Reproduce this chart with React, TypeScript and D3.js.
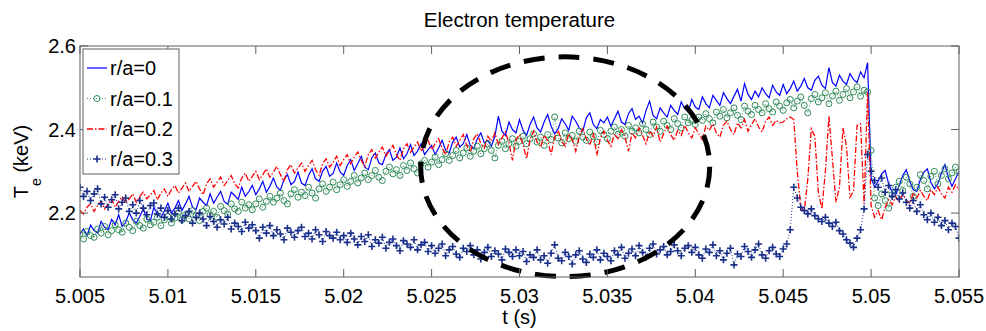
import React from "react";
import * as d3 from "d3";

const T0 = 5.005;
const DT = 0.0002;

const xTicks = [5.005, 5.01, 5.015, 5.02, 5.025, 5.03, 5.035, 5.04, 5.045, 5.05, 5.055];
const xTickLabels = ["5.005", "5.01", "5.015", "5.02", "5.025", "5.03", "5.035", "5.04", "5.045", "5.05", "5.055"];
const yTicks = [2.2, 2.4, 2.6];
const yTickLabels = ["2.2", "2.4", "2.6"];

const seriesNames = ["r/a=0", "r/a=0.1", "r/a=0.2", "r/a=0.3"];

// r/a = 0
const te0 = [
  2.150, 2.162, 2.146, 2.171, 2.158, 2.152, 2.180, 2.166, 2.160, 2.185, 2.172, 2.196, 2.168, 2.178, 2.201, 2.184, 2.176, 2.192, 2.210, 2.186, 2.181, 2.214, 2.198, 2.190, 2.205,
  2.224, 2.200, 2.212, 2.230, 2.206, 2.222, 2.240, 2.214, 2.208, 2.236, 2.226, 2.218, 2.246, 2.224, 2.238, 2.252, 2.228, 2.221, 2.250, 2.242, 2.233, 2.262, 2.240, 2.251, 2.266,
  2.244, 2.258, 2.276, 2.250, 2.264, 2.284, 2.262, 2.255, 2.280, 2.292, 2.268, 2.276, 2.298, 2.272, 2.266, 2.290, 2.306, 2.282, 2.276, 2.300, 2.312, 2.288, 2.295, 2.320, 2.298,
  2.290, 2.314, 2.328, 2.302, 2.318, 2.336, 2.310, 2.304, 2.332, 2.344, 2.320, 2.316, 2.340, 2.352, 2.326, 2.334, 2.356, 2.330, 2.342, 2.364, 2.338, 2.348, 2.366, 2.340, 2.352,
  2.362, 2.340, 2.356, 2.374, 2.350, 2.344, 2.370, 2.382, 2.358, 2.366, 2.388, 2.362, 2.354, 2.378, 2.392, 2.368, 2.374, 2.360, 2.384, 2.432, 2.396, 2.386, 2.418, 2.400, 2.392,
  2.424, 2.398, 2.386, 2.412, 2.430, 2.404, 2.394, 2.418, 2.436, 2.408, 2.390, 2.402, 2.426, 2.414, 2.398, 2.432, 2.420, 2.404, 2.396, 2.428, 2.440, 2.412, 2.402, 2.424, 2.416,
  2.430, 2.408, 2.426, 2.444, 2.418, 2.412, 2.438, 2.450, 2.424, 2.432, 2.416, 2.446, 2.468, 2.434, 2.426, 2.452, 2.440, 2.430, 2.458, 2.446, 2.436, 2.466, 2.450, 2.442, 2.472,
  2.454, 2.448, 2.478, 2.462, 2.452, 2.482, 2.470, 2.458, 2.488, 2.474, 2.462, 2.480, 2.496, 2.468, 2.510, 2.484, 2.472, 2.492, 2.478, 2.500, 2.486, 2.476, 2.506, 2.490, 2.482,
  2.508, 2.486, 2.498, 2.516, 2.492, 2.504, 2.522, 2.500, 2.494, 2.518, 2.528, 2.506, 2.498, 2.548, 2.512, 2.504, 2.530, 2.516, 2.508, 2.534, 2.520, 2.512, 2.538, 2.524, 2.560,
  2.285, 2.262, 2.276, 2.294, 2.302, 2.270, 2.250, 2.244, 2.266, 2.290, 2.304, 2.276, 2.256, 2.252, 2.280, 2.298, 2.306, 2.274, 2.258, 2.270, 2.296, 2.316, 2.284, 2.264, 2.282, 2.300,
];

// r/a = 0.1
const te1 = [
  2.150, 2.138, 2.156, 2.146, 2.142, 2.162, 2.152, 2.168, 2.148, 2.158, 2.172, 2.160, 2.154, 2.176, 2.166, 2.158, 2.180, 2.170, 2.164, 2.186, 2.172, 2.178, 2.190, 2.170, 2.184,
  2.192, 2.176, 2.188, 2.200, 2.184, 2.196, 2.186, 2.206, 2.194, 2.182, 2.204, 2.212, 2.196, 2.204, 2.190, 2.216, 2.206, 2.198, 2.222, 2.210, 2.204, 2.226, 2.212, 2.220, 2.208,
  2.222, 2.234, 2.214, 2.228, 2.240, 2.226, 2.236, 2.248, 2.230, 2.222, 2.246, 2.256, 2.238, 2.250, 2.242, 2.262, 2.248, 2.236, 2.258, 2.270, 2.252, 2.262, 2.274, 2.256, 2.268,
  2.280, 2.264, 2.276, 2.290, 2.272, 2.284, 2.296, 2.280, 2.290, 2.302, 2.286, 2.278, 2.300, 2.310, 2.294, 2.304, 2.290, 2.314, 2.302, 2.320, 2.306, 2.296, 2.318, 2.326, 2.310,
  2.322, 2.334, 2.316, 2.328, 2.342, 2.326, 2.338, 2.350, 2.332, 2.344, 2.356, 2.336, 2.348, 2.360, 2.342, 2.354, 2.366, 2.350, 2.332, 2.362, 2.372, 2.354, 2.366, 2.378, 2.360,
  2.372, 2.384, 2.366, 2.378, 2.390, 2.370, 2.382, 2.362, 2.388, 2.376, 2.430, 2.380, 2.368, 2.392, 2.378, 2.386, 2.372, 2.396, 2.382, 2.374, 2.394, 2.384, 2.370, 2.398, 2.388,
  2.378, 2.396, 2.406, 2.388, 2.400, 2.384, 2.410, 2.396, 2.404, 2.392, 2.414, 2.400, 2.388, 2.418, 2.406, 2.396, 2.420, 2.410, 2.400, 2.426, 2.414, 2.404, 2.430, 2.416, 2.422,
  2.412, 2.430, 2.422, 2.438, 2.426, 2.416, 2.442, 2.432, 2.448, 2.428, 2.440, 2.452, 2.434, 2.424, 2.456, 2.444, 2.436, 2.458, 2.448, 2.440, 2.462, 2.450, 2.442, 2.466, 2.456,
  2.446, 2.464, 2.472, 2.452, 2.468, 2.478, 2.458, 2.440, 2.474, 2.484, 2.466, 2.476, 2.488, 2.462, 2.480, 2.492, 2.470, 2.484, 2.498, 2.476, 2.490, 2.502, 2.480, 2.494, 2.490,
  2.350, 2.236, 2.218, 2.246, 2.230, 2.212, 2.244, 2.262, 2.276, 2.254, 2.286, 2.270, 2.240, 2.262, 2.292, 2.278, 2.258, 2.288, 2.300, 2.270, 2.290, 2.306, 2.282, 2.296, 2.310, 2.298,
];

// r/a = 0.2
const te2 = [
  2.206, 2.198, 2.214, 2.222, 2.204, 2.218, 2.228, 2.210, 2.222, 2.234, 2.214, 2.228, 2.240, 2.224, 2.234, 2.246, 2.226, 2.240, 2.250, 2.234, 2.244, 2.254, 2.232, 2.248, 2.258,
  2.240, 2.256, 2.266, 2.248, 2.260, 2.272, 2.252, 2.264, 2.276, 2.258, 2.244, 2.270, 2.282, 2.262, 2.274, 2.286, 2.266, 2.278, 2.290, 2.270, 2.260, 2.284, 2.296, 2.276, 2.288,
  2.300, 2.280, 2.292, 2.306, 2.286, 2.298, 2.312, 2.292, 2.276, 2.304, 2.316, 2.296, 2.308, 2.320, 2.300, 2.314, 2.326, 2.304, 2.290, 2.318, 2.330, 2.310, 2.322, 2.336, 2.314,
  2.328, 2.340, 2.318, 2.334, 2.346, 2.326, 2.312, 2.340, 2.352, 2.332, 2.346, 2.358, 2.336, 2.350, 2.362, 2.340, 2.326, 2.354, 2.366, 2.346, 2.358, 2.370, 2.348, 2.362, 2.374,
  2.352, 2.366, 2.378, 2.356, 2.340, 2.370, 2.382, 2.360, 2.374, 2.388, 2.362, 2.346, 2.378, 2.390, 2.366, 2.356, 2.384, 2.372, 2.392, 2.364, 2.380, 2.394, 2.368, 2.326, 2.376,
  2.388, 2.364, 2.330, 2.376, 2.396, 2.370, 2.358, 2.386, 2.374, 2.340, 2.382, 2.398, 2.372, 2.360, 2.390, 2.376, 2.348, 2.384, 2.402, 2.378, 2.362, 2.392, 2.338, 2.380, 2.396,
  2.374, 2.360, 2.390, 2.378, 2.400, 2.382, 2.348, 2.392, 2.380, 2.404, 2.386, 2.366, 2.396, 2.384, 2.406, 2.370, 2.390, 2.408, 2.388, 2.374, 2.398, 2.386, 2.410, 2.392, 2.380,
  2.404, 2.390, 2.376, 2.408, 2.398, 2.414, 2.392, 2.382, 2.410, 2.420, 2.400, 2.388, 2.416, 2.404, 2.424, 2.396, 2.412, 2.426, 2.406, 2.394, 2.420, 2.430, 2.410, 2.422, 2.416,
  2.418, 2.426, 2.430, 2.424, 2.300, 2.214, 2.204, 2.282, 2.402, 2.384, 2.250, 2.210, 2.300, 2.432, 2.330, 2.226, 2.262, 2.404, 2.360, 2.238, 2.252, 2.410, 2.414, 2.222, 2.490,
  2.218, 2.190, 2.206, 2.184, 2.214, 2.232, 2.220, 2.240, 2.226, 2.246, 2.232, 2.222, 2.248, 2.236, 2.254, 2.240, 2.230, 2.256, 2.244, 2.262, 2.246, 2.236, 2.262, 2.250, 2.268, 2.256,
];

// r/a = 0.3
const te3 = [
  2.262, 2.240, 2.252, 2.230, 2.246, 2.258, 2.222, 2.238, 2.214, 2.232, 2.244, 2.210, 2.226, 2.236, 2.204, 2.220, 2.200, 2.230, 2.212, 2.196, 2.218, 2.224, 2.198, 2.212, 2.190,
  2.206, 2.186, 2.198, 2.212, 2.182, 2.194, 2.204, 2.176, 2.190, 2.200, 2.186, 2.170, 2.192, 2.180, 2.166, 2.184, 2.174, 2.190, 2.162, 2.176, 2.168, 2.156, 2.178, 2.164, 2.172,
  2.158, 2.140, 2.166, 2.152, 2.170, 2.146, 2.160, 2.150, 2.136, 2.164, 2.154, 2.142, 2.158, 2.166, 2.144, 2.152, 2.138, 2.160, 2.148, 2.132, 2.156, 2.146, 2.140, 2.154, 2.136,
  2.146, 2.130, 2.152, 2.138, 2.124, 2.144, 2.132, 2.148, 2.120, 2.136, 2.128, 2.142, 2.116, 2.130, 2.138, 2.122, 2.110, 2.134, 2.126, 2.118, 2.136, 2.112, 2.124, 2.130, 2.108,
  2.122, 2.104, 2.116, 2.126, 2.098, 2.112, 2.120, 2.102, 2.094, 2.116, 2.108, 2.122, 2.100, 2.112, 2.090, 2.106, 2.118, 2.096, 2.110, 2.102, 2.088, 2.114, 2.106, 2.096, 2.112,
  2.098, 2.108, 2.084, 2.100, 2.094, 2.112, 2.088, 2.098, 2.080, 2.104, 2.124, 2.092, 2.086, 2.106, 2.096, 2.078, 2.100, 2.110, 2.090, 2.082, 2.102, 2.094, 2.112, 2.088, 2.104,
  2.096, 2.086, 2.110, 2.100, 2.118, 2.092, 2.104, 2.114, 2.098, 2.122, 2.106, 2.094, 2.116, 2.126, 2.102, 2.112, 2.120, 2.100, 2.108, 2.124, 2.110, 2.098, 2.116, 2.122, 2.106,
  2.118, 2.100, 2.092, 2.114, 2.106, 2.124, 2.098, 2.110, 2.088, 2.104, 2.116, 2.076, 2.102, 2.096, 2.120, 2.108, 2.094, 2.112, 2.126, 2.100, 2.092, 2.110, 2.118, 2.102, 2.096,
  2.114, 2.126, 2.160, 2.262, 2.236, 2.214, 2.206, 2.198, 2.210, 2.194, 2.186, 2.180, 2.190, 2.176, 2.168, 2.178, 2.158, 2.150, 2.136, 2.128, 2.118, 2.140, 2.160, 2.210, 2.340,
  2.300, 2.278, 2.262, 2.284, 2.250, 2.266, 2.240, 2.256, 2.234, 2.248, 2.226, 2.212, 2.230, 2.204, 2.220, 2.196, 2.184, 2.200, 2.178, 2.190, 2.170, 2.182, 2.160, 2.176, 2.168, 2.140,
];

// dashed ellipse annotation (data units)
const ellipseCenter = [5.0326, 2.311];
const ellipseRadii = [0.00822, 0.263];

const W = 986;
const H = 331;
const L = 80, R = 959, TOP = 46, BOT = 277;
const FONT = "'Liberation Sans', Arial, Helvetica, sans-serif";
const AXIS = "#5f5f5f";

const COLORS = ["#0000ff", "#2e8b57", "#ff0000", "#1a2f8c"];

export default function App() {
  const x = d3.scaleLinear().domain([5.005, 5.055]).range([L, R]);
  const y = d3.scaleLinear().domain([2.047, 2.6]).range([BOT, TOP]);

  const toPts = (arr: number[]) => arr.map((v, i) => [T0 + i * DT, v] as [number, number]);
  const line = d3
    .line<[number, number]>()
    .x((d) => x(d[0]))
    .y((d) => y(d[1]));

  const p0 = toPts(te0);
  const p1 = toPts(te1);
  const p2 = toPts(te2);
  const p3 = toPts(te3);

  const tick = 8;
  const legendRows = [68, 98.5, 129, 159];

  const ecx = x(ellipseCenter[0]);
  const ecy = y(ellipseCenter[1]);
  const erx = x(5.005 + ellipseRadii[0]) - x(5.005);
  const ery = y(2.2) - y(2.2 + ellipseRadii[1]);

  const plus = (cx: number, cy: number, k: string, c: string) => (
    <path key={k} d={`M${cx - 3.5},${cy}H${cx + 3.5}M${cx},${cy - 3.5}V${cy + 3.5}`} stroke={c} strokeWidth={1.6} fill="none" />
  );

  return (
    <svg width={W} height={H} style={{ position: "absolute", left: 0, top: 0, background: "#fff" }} fontFamily={FONT}>
      <defs>
        <clipPath id="plotclip">
          <rect x={L} y={TOP} width={R - L} height={BOT - TOP} />
        </clipPath>
      </defs>
      <rect x={0} y={0} width={W} height={H} fill="#fff" />

      <text x={(L + R) / 2} y={27} textAnchor="middle" fontSize={20.5} fill="#000">
        Electron temperature
      </text>

      <g clipPath="url(#plotclip)">
        <path d={line(p0) || ""} fill="none" stroke={COLORS[0]} strokeWidth={1.2} />
        <path d={line(p1) || ""} fill="none" stroke={COLORS[1]} strokeWidth={1} strokeDasharray="1 2" />
        {p1.map((d, i) => (
          <circle key={"g" + i} cx={x(d[0])} cy={y(d[1])} r={3} fill="none" stroke={COLORS[1]} strokeWidth={1} />
        ))}
        <path d={line(p2) || ""} fill="none" stroke={COLORS[2]} strokeWidth={1.3} strokeDasharray="6 2 1.5 2" />
        <path d={line(p3) || ""} fill="none" stroke={COLORS[3]} strokeWidth={1} strokeDasharray="1 2" />
        {p3.map((d, i) => plus(x(d[0]), y(d[1]), "p" + i, COLORS[3]))}
      </g>

      <ellipse cx={ecx} cy={ecy} rx={erx} ry={ery} fill="none" stroke="#000" strokeWidth={5} strokeDasharray="21 14" />

      {/* axes box */}
      <rect x={L} y={TOP} width={R - L} height={BOT - TOP} fill="none" stroke={AXIS} strokeWidth={1} />
      {xTicks.map((t, i) => (
        <g key={"xt" + i}>
          <line x1={x(t)} x2={x(t)} y1={BOT} y2={BOT - tick} stroke={AXIS} />
          <line x1={x(t)} x2={x(t)} y1={TOP} y2={TOP + tick} stroke={AXIS} />
          <text x={x(t)} y={BOT + 26} textAnchor="middle" fontSize={20} fill="#000">
            {xTickLabels[i]}
          </text>
        </g>
      ))}
      {yTicks.map((v, i) => (
        <g key={"yt" + i}>
          <line x1={L} x2={L + tick} y1={y(v)} y2={y(v)} stroke={AXIS} />
          <line x1={R} x2={R - tick} y1={y(v)} y2={y(v)} stroke={AXIS} />
          <text x={L - 4} y={y(v) + 7} textAnchor="end" fontSize={20} fill="#000">
            {yTickLabels[i]}
          </text>
        </g>
      ))}

      <text x={(L + R) / 2} y={324} textAnchor="middle" fontSize={20} fill="#000">
        t (s)
      </text>

      <text transform={`translate(28,${(TOP + BOT) / 2}) rotate(-90)`} textAnchor="middle" fontSize={20} fill="#000">
        <tspan>T</tspan>
        <tspan fontSize={14} dy={13}>e</tspan>
        <tspan dy={-13}> (keV)</tspan>
      </text>

      {/* legend */}
      <rect x={83} y={49} width={96} height={125} fill="#fff" stroke={AXIS} strokeWidth={1} />
      {seriesNames.map((name, i) => {
        const ly = legendRows[i];
        return (
          <g key={"lg" + i}>
            {i === 0 && <line x1={87} x2={107} y1={ly} y2={ly} stroke={COLORS[0]} strokeWidth={1.2} />}
            {i === 1 && (
              <>
                <line x1={87} x2={107} y1={ly} y2={ly} stroke={COLORS[1]} strokeDasharray="1 2" />
                <circle cx={97} cy={ly} r={3} fill="none" stroke={COLORS[1]} />
              </>
            )}
            {i === 2 && <line x1={87} x2={107} y1={ly} y2={ly} stroke={COLORS[2]} strokeWidth={1.3} strokeDasharray="6 2 1.5 2" />}
            {i === 3 && (
              <>
                <line x1={87} x2={107} y1={ly} y2={ly} stroke={COLORS[3]} strokeDasharray="1 2" />
                {plus(97, ly, "lp", COLORS[3])}
              </>
            )}
            <text x={110} y={ly + 7} fontSize={20} fill="#000">
              {name}
            </text>
          </g>
        );
      })}
    </svg>
  );
}
